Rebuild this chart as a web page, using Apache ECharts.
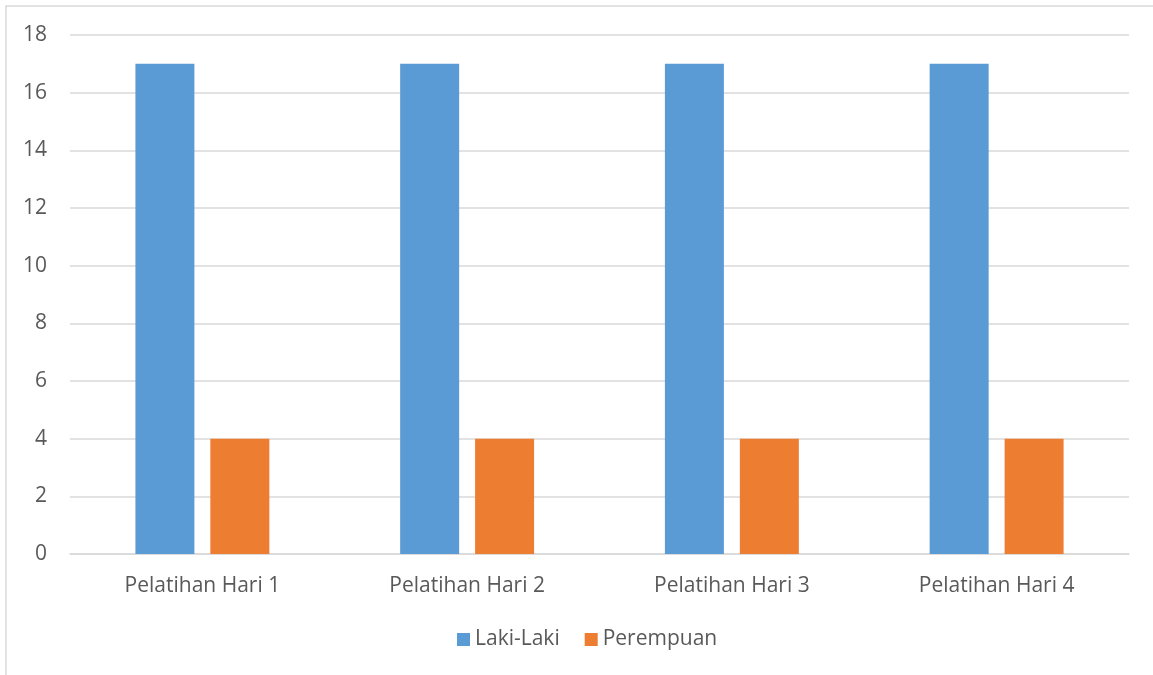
<!DOCTYPE html>
<html>
<head>
<meta charset="utf-8">
<script src="https://cdn.jsdelivr.net/npm/echarts@6/dist/echarts.min.js"></script>
<style>
html,body{margin:0;padding:0;background:#fff;}
#c{width:1153px;height:675px;}
</style>
</head>
<body>
<div id="c"></div>
<script>
const categories = ['Pelatihan Hari 1', 'Pelatihan Hari 2', 'Pelatihan Hari 3', 'Pelatihan Hari 4'];
const lakiLaki = [17, 17, 17, 17];
const perempuan = [4, 4, 4, 4];
const seriesNames = ['Laki-Laki', 'Perempuan'];

const FONT = '"Open Sans", "Noto Sans", sans-serif';
const chart = echarts.init(document.getElementById('c'), null, {renderer: 'canvas'});
chart.setOption({
  animation: false,
  backgroundColor: '#fff',
  textStyle: {fontFamily: FONT},
  graphic: [{
    type: 'rect',
    shape: {x: 6, y: 6, width: 1200, height: 700},
    style: {fill: 'none', stroke: '#d9d9d9', lineWidth: 1.5},
    silent: true
  }],
  grid: {left: 70, right: 24, top: 35, bottom: 121, containLabel: false},
  legend: {
    top: 629,
    left: 457,
    itemWidth: 13,
    itemHeight: 13,
    itemGap: 25,
    icon: 'rect',
    padding: 0,
    textStyle: {color: '#595959', fontSize: 21, fontFamily: FONT, padding: [0, 0, 0, 0]},
    data: seriesNames
  },
  xAxis: {
    type: 'category',
    data: categories,
    axisLine: {lineStyle: {color: '#d9d9d9', width: 1.5}},
    axisTick: {show: false},
    axisLabel: {color: '#595959', fontSize: 21, margin: 22, fontFamily: FONT}
  },
  yAxis: {
    type: 'value',
    min: 0,
    max: 18,
    interval: 2,
    axisLine: {show: false},
    axisTick: {show: false},
    axisLabel: {color: '#595959', fontSize: 21, margin: 23, fontFamily: FONT},
    splitLine: {lineStyle: {color: '#d9d9d9', width: 1.5}}
  },
  series: [
    {name: seriesNames[0], type: 'bar', data: lakiLaki, barWidth: 59, barGap: '27%', itemStyle: {color: '#5B9BD5'}},
    {name: seriesNames[1], type: 'bar', data: perempuan, barWidth: 59, itemStyle: {color: '#ED7D31'}}
  ]
});
</script>
</body>
</html>
